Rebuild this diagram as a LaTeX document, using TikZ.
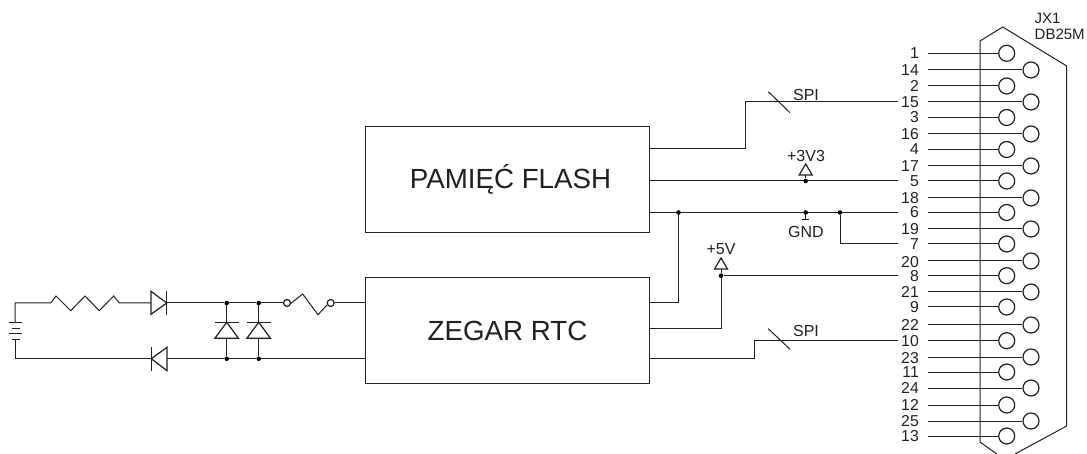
\documentclass[tikz,border=0pt]{standalone}
\usepackage{fontspec}
\setmainfont{Liberation Sans}
\definecolor{ink}{HTML}{231F20}
\tikzset{
  wire/.style={draw=ink,line width=1pt,line join=miter},
  thin wire/.style={draw=ink,line width=1pt},
  dotnode/.style={circle,fill=black,inner sep=0pt,minimum size=4.6pt},
  pincirc/.style={circle,draw=ink,line width=1.2pt,fill=white,inner sep=0pt,minimum size=16pt},
  swcirc/.style={circle,draw=ink,line width=1.2pt,fill=white,inner sep=0pt,minimum size=7pt},
  pinlabel/.style={text=ink,font=\fontsize{15.8}{15}\selectfont,anchor=east,inner sep=0pt},
  smalllabel/.style={text=ink,font=\fontsize{16}{16}\selectfont,inner sep=0pt},
  spilabel/.style={text=ink,font=\fontsize{16}{16}\selectfont,inner sep=0pt},
  block/.style={draw=ink,line width=1pt,fill=white,anchor=north west,inner sep=0pt,text=ink,font=\fontsize{27.7}{28}\selectfont},
  anode/.style={draw=ink,line width=1.2pt,fill=white,line join=miter},
}
\begin{document}
\begin{tikzpicture}[x=1pt,y=-1pt]
\useasboundingbox (0,0) rectangle (1087,454);
% connector body
\draw[wire] (980,41) -- (1002.7,27) -- (1066.7,66) -- (1066.7,426) -- (1015,454);
\draw[wire] (996.7,454) -- (980,442) -- (980,41);
% pins: name/y/odd-even x
\foreach \n/\y/\cx/\ly in {1/53.3/1006.7/53.3,14/70/1031/70,2/86/1006.7/86,15/102/1031/102,3/117.5/1006.7/117.5,16/134/1031/134,4/149.5/1006.7/149.5,17/166/1031/166,5/181/1006.7/181,18/198/1031/198,6/212.5/1006.7/212.5,19/229/1031/229,7/244/1006.7/244,20/261/1031/262,8/275.7/1006.7/275.7,21/292/1031/292,9/307/1006.7/307,22/325/1031/325,10/340.7/1006.7/340.7,23/357/1031/358,11/372/1006.7/372,24/388/1031/388,12/405/1006.7/405,25/421/1031/421,13/436/1006.7/436}{
  \node[pinlabel] (l\n) at (919,\ly) {\n};
  \coordinate (s\n) at (928,\y);
  \coordinate (w\n) at (898,\y);
  \node[pincirc] (p\n) at (\cx,\y) {};
  \draw[wire] (s\n) -- (p\n);
}
\node[text=ink,font=\fontsize{15}{15}\selectfont,anchor=base west,inner sep=0pt] (jx) at (1034.5,23.5) {JX1};
\node[text=ink,font=\fontsize{15}{15}\selectfont,anchor=base west,inner sep=0pt] (db) at (1034.5,40) {DB25M};
% blocks
\node[block,minimum width=284pt,minimum height=105.7pt] (flash) at (365,126) {\hspace*{6pt}PAMIĘĆ FLASH};
\node[block,minimum width=284pt,minimum height=106pt] (rtc) at (365,277) {ZEGAR RTC};
% flash wires
\coordinate (fa) at (649,148.3);
\coordinate (fb) at (649,181);
\coordinate (fc) at (649,212.5);
\draw[wire] (fa) -- (745.7,148.3) -- (745.7,102) -- (w15);
\draw[thin wire] (768.3,91.7) -- (790,112.7);
\node[spilabel] (spia) at (806,95) {SPI};
\draw[wire] (fb) -- (w5);
\draw[wire] (fc) -- (w6);
% +3V3
\node[dotnode] (d3) at (805.7,181) {};
\draw[anode] (805.7,164) -- (812.2,175) -- (799.2,175) -- cycle;
\draw[wire] (805.7,175) -- (d3);
\node[smalllabel] (v3) at (806,155.5) {+3V3};
% GND
\node[dotnode] (dg) at (805.7,212.5) {};
\coordinate (gs) at (805.7,220);
\draw[wire] (dg) -- (gs);
\draw[wire] (802,220) -- (809.4,220);
\node[smalllabel] (gnd) at (806,231.5) {GND};
% junctions
\node[dotnode] (j1) at (678.5,212.5) {};
\node[dotnode] (j2) at (840,212.5) {};
\draw[wire] (j2) |- (w7);
\coordinate (ra) at (649,302.7);
\coordinate (rb) at (649,328.3);
\coordinate (rc) at (649,358.3);
\draw[wire] (j1) |- (ra);
% +5V
\node[dotnode] (d5) at (721,275.7) {};
\draw[wire] (rb) -| (d5);
\draw[wire] (d5) -- (w8);
\draw[anode] (721,258) -- (727.5,269) -- (714.5,269) -- cycle;
\draw[wire] (721,269) -- (d5);
\node[smalllabel] (v5) at (721,249) {+5V};
% RTC SPI
\draw[wire] (rc) -- (754.7,358.3) -- (754.7,340.7) -- (w10);
\draw[thin wire] (768.3,328.7) -- (790,349.3);
\node[spilabel] (spib) at (806,331) {SPI};
% left circuit
\coordinate (rsw) at (366,303);
\coordinate (rgnd) at (366,358.7);
\node[dotnode] (a1) at (226.7,303) {};
\node[dotnode] (a2) at (258.7,303) {};
\node[dotnode] (b1) at (226.7,358.7) {};
\node[dotnode] (b2) at (258.7,358.7) {};
\node[swcirc] (sw1) at (287,303) {};
\node[swcirc] (sw2) at (330.7,303) {};
\draw[wire] (15,322.3) -- (15,303) -- (50.7,303) -- (56,296) -- (70.7,310.7) -- (85,296) -- (99.3,310.7) -- (113.7,296) -- (119.3,303) -- (151,303);
\draw[wire] (166.7,303) -- (a1) -- (a2) -- (sw1);
\draw[wire] (sw2) -- (rsw);
\draw[wire] (291,303.3) -- (302.7,294) -- (318,314.7) -- (327,305);
\draw[wire] (15,339.3) -- (15,358.7) -- (151,358.7);
\draw[wire] (166.7,358.7) -- (b1) -- (b2) -- (rgnd);
% battery
\draw[wire] (9.3,323) -- (21.7,323);
\draw[wire] (11.5,328.3) -- (19.7,328.3);
\draw[wire] (9.3,334) -- (21.7,334);
\draw[wire] (11.5,339.3) -- (19.7,339.3);
% diodes
\draw[anode] (151,291.3) -- (166.7,303) -- (151,314.3) -- cycle;
\draw[wire] (166.7,291) -- (166.7,314.7);
\draw[anode] (167,347.3) -- (151.3,358.7) -- (167,370.7) -- cycle;
\draw[wire] (151.3,347) -- (151.3,370.7);
\foreach \dx/\top/\bot in {226.7/a1/b1,258.7/a2/b2}{
  \draw[wire] (\top) -- (\dx,322.3);
  \draw[wire] (\dx,338.3) -- (\bot);
  \draw[anode] (\dx,322.3) -- (\dx+11.8,338.3) -- (\dx-11.8,338.3) -- cycle;
  \draw[wire] (\dx-11.8,322.3) -- (\dx+11.8,322.3);
}
\end{tikzpicture}
\end{document}
